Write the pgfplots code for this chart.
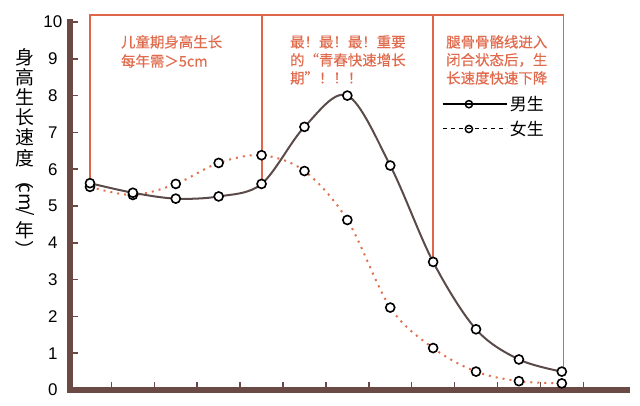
\documentclass[border=0pt]{standalone}
\usepackage{fontspec}
\setmainfont{Liberation Sans}
\newfontfamily\cjk{Noto Sans CJK SC}
\newfontfamily\cjkb[FakeBold=0.5]{Noto Sans CJK SC}
\usepackage{pgfplots}
\pgfplotsset{compat=1.18}
\usepackage{pgfplotstable}
\definecolor{axbrown}{HTML}{6B4A45}
\definecolor{malec}{HTML}{5A4B4A}
\definecolor{boxred}{HTML}{E0654A}
\definecolor{txtred}{HTML}{E06A4C}
\definecolor{femc}{HTML}{E07050}

\pgfplotstableread{
x y
0 5.62
1 5.36
2 5.20
3 5.26
4 5.60
5 7.15
6 8.00
7 6.10
8 3.48
9 1.65
10 0.83
11 0.50
}\male
\pgfplotstableread{
x y
0 5.52
1 5.30
2 5.60
3 6.17
4 6.38
5 5.95
6 4.62
7 2.24
8 1.14
9 0.50
10 0.24
11 0.18
}\female

\begin{document}
\begin{tikzpicture}
\begin{axis}[
 scale only axis, width=557bp, height=368bp,
 xmin=-0.466, xmax=12.52, ymin=0, ymax=10,
 axis x line=bottom, axis y line=left,
 axis line style={-, line width=6bp, axbrown, line cap=rect},
 xtick={0.5,1.5,...,11.5}, xticklabels={},
 ytick={0,1,...,10},
 tick style={axbrown, line width=1.5bp},
 major tick length=8bp,
 tick align=inside,
 yticklabel style={font=\fontsize{17}{17}\selectfont, inner sep=0pt, text width=20bp, align=center, anchor=east, xshift=-7bp},
 /pgf/number format/assume math mode=true,
 clip=false,
 unbounded coords=jump,
 legend style={draw=none, fill=none, at={(axis cs:8.2,8.04)}, anchor=north west,
   font=\cjk\fontsize{17}{17}\selectfont, row sep=5bp, inner sep=0pt, nodes={inner sep=2bp}},
 legend cell align=left,
 legend image code/.code={\draw[mark repeat=2,mark phase=2,#1] plot coordinates {(0bp,0bp) (26bp,0bp) (52bp,0bp)}; \path (0bp,0bp) -- (64bp,0bp);},
]
\coordinate (SW) at (axis cs:-0.466,0);
\addlegendimage{black, line width=2bp, mark=*, mark size=3.6bp, mark options={solid, fill=white, draw=black, line width=1.5bp}}
\addlegendentry{男生}
\addlegendimage{black, line width=1bp, dash pattern=on 4bp off 4bp, mark=*, mark size=3.6bp, mark options={solid, fill=white, draw=black, line width=1.5bp}}
\addlegendentry{女生}

% boxes
\addplot[draw=boxred, line width=1.8bp, forget plot] coordinates {(0,5.62) (0,10.19) (11.04,10.19) (11.04,0.50) (nan,nan) (4.01,5.60) (4.01,10.19) (nan,nan) (8,3.48) (8,10.19)};

% curves
\addplot[femc, line width=2bp, smooth, tension=0.55, dash pattern=on 2bp off 5bp, forget plot] table[x=x,y=y] {\female};
\addplot[malec, line width=2bp, smooth, tension=0.55, forget plot] table[x=x,y=y] {\male};

% markers
\addplot[only marks, mark=*, mark size=4.5bp, mark options={fill=white, draw=black, line width=1.6bp}, forget plot] table[x=x,y=y] {\female};
\addplot[only marks, mark=*, mark size=4.5bp, mark options={fill=white, draw=black, line width=1.6bp}, forget plot] table[x=x,y=y] {\male};

% annotations
\begin{scope}[every node/.style={anchor=west, inner sep=0pt, text=txtred, font=\cjkb\fontsize{14.5}{14.5}\selectfont}]
\node at (axis cs:0.72,9.46) {儿童期身高生长};
\node at (axis cs:0.72,8.94) {每年需＞5cm};
\node at (axis cs:4.66,9.46) {最！最！最！重要};
\node at (axis cs:4.66,8.97) {的“青春快速增长};
\node at (axis cs:4.66,8.48) {期”！！！};
\node at (axis cs:8.30,9.46) {腿骨骨骼线进入};
\node at (axis cs:8.30,8.97) {闭合状态后，生};
\node at (axis cs:8.30,8.48) {长速度快速下降};
\end{scope}

% y label (vertical writing)
\begin{scope}[every node/.style={inner sep=0pt, font=\cjk\fontsize{19}{19}\selectfont}]
\node at (axis cs:-1.515,9.05) {身};
\node at (axis cs:-1.515,8.51) {高};
\node at (axis cs:-1.515,7.96) {生};
\node at (axis cs:-1.515,7.42) {长};
\node at (axis cs:-1.515,6.88) {速};
\node at (axis cs:-1.515,6.30) {度};
\node[rotate=-90] at (axis cs:-1.515,5.71) {（};
\node[rotate=-90] at (axis cs:-1.515,5.24) {cm};
\node[rotate=-90] at (axis cs:-1.515,4.84) {/};
\node at (axis cs:-1.515,4.35) {年};
\node[rotate=-90] at (axis cs:-1.515,3.80) {）};
\end{scope}
\end{axis}
\pgfresetboundingbox
\path[use as bounding box] ([shift={(-70bp,-16bp)}]SW) rectangle ([shift={(570bp,390bp)}]SW);
\end{tikzpicture}
\end{document}
